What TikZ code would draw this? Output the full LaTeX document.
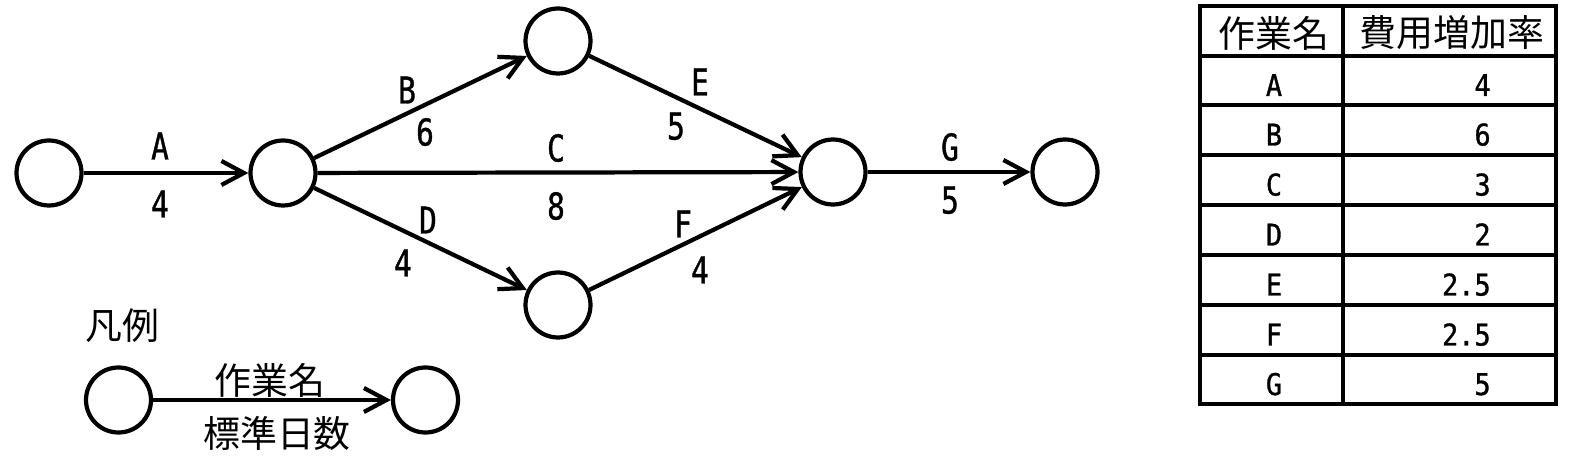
\documentclass[tikz,border=0pt]{standalone}
\usepackage{fontspec}
\usetikzlibrary{arrows.meta}
\newfontfamily\jp{Noto Sans CJK JP}
\newfontfamily\lat[FakeStretch=0.8, FakeBold=1]{DejaVu Sans Mono}
\newfontfamily\tlat[FakeStretch=0.9, FakeBold=1]{DejaVu Sans Mono}
\tikzset{
  ev/.style={circle, draw, line width=2.4pt, minimum size=1.3cm, inner sep=0pt},
  arr/.style={line width=2.4pt, -{Straight Barb[length=0.45cm, width=0.48cm]}},
  lbl/.style={font=\lat\fontsize{21pt}{21pt}\selectfont, inner sep=0pt, anchor=base},
  jtxt/.style={font=\jp\fontsize{21pt}{21pt}\selectfont, inner sep=0pt},
  tl/.style={font=\tlat\fontsize{17pt}{17pt}\selectfont, inner sep=0pt, anchor=base},
  tv/.style={font=\tlat\fontsize{17pt}{17pt}\selectfont, inner sep=0pt, anchor=base east},
  rule/.style={line width=2.4pt}
}
\begin{document}
\begin{tikzpicture}[x=0.02cm, y=-0.02cm]
\useasboundingbox (0,0) rectangle (1573,465);
% events
\node[ev] (n1) at (49,173) {};
\node[ev] (n2) at (283,173) {};
\node[ev] (n3) at (558,41) {};
\node[ev] (n4) at (558,305) {};
\node[ev] (n5) at (833,172) {};
\node[ev] (n6) at (1065,172) {};
% activities
\draw[arr] (n1) -- (n2);
\draw[arr] (n2) -- (n3);
\draw[arr] (n2) -- (n5);
\draw[arr] (n2) -- (n4);
\draw[arr] (n3) -- (n5);
\draw[arr] (n4) -- (n5);
\draw[arr] (n5) -- (n6);
% labels
\node[lbl] (la) at (160,159.5) {A};
\node[lbl] (da) at (160,217.5) {4};
\node[lbl] (lb) at (407,103.5) {B};
\node[lbl] (db) at (425,145.5) {6};
\node[lbl] (lc) at (556,161.5) {C};
\node[lbl] (dc) at (556,219.5) {8};
\node[lbl] (ld) at (428,233.5) {D};
\node[lbl] (dd) at (403,276.5) {4};
\node[lbl] (le) at (700,95.5) {E};
\node[lbl] (de) at (676,139.5) {5};
\node[lbl] (lf) at (683,237.5) {F};
\node[lbl] (df) at (700,283.5) {4};
\node[lbl] (lg) at (950,160.5) {G};
\node[lbl] (dg) at (950,213.5) {5};
% legend
\node[jtxt] (hanrei) at (122,326) {凡例};
\node[ev] (l1) at (118.5,400) {};
\node[ev] (l2) at (425.5,400) {};
\draw[arr] (l1) -- (l2);
\node[jtxt] (lname) at (270,380) {作業名};
\node[jtxt] (ldays) at (277,433) {標準日数};
% table
\draw[line width=2.7pt] (1200,6) rectangle (1556,404);
\draw[rule] (1343,6) -- (1343,404);
\foreach \yy in {56,105,155,205,255,305,355} {
  \draw[rule] (1200,\yy) -- (1556,\yy);
}
\node[jtxt] (h1) at (1274,33) {作業名};
\node[jtxt] (h2) at (1452,33) {費用増加率};
\node[tl] (ta) at (1274,96) {A};
\node[tl] (tb) at (1274,145.5) {B};
\node[tl] (tc) at (1274,195.5) {C};
\node[tl] (td) at (1274,245.5) {D};
\node[tl] (te) at (1274,295.5) {E};
\node[tl] (tf) at (1274,345.5) {F};
\node[tl] (tg) at (1274,395) {G};
\node[tv] (va) at (1491,96) {4};
\node[tv] (vb) at (1491,145.5) {6};
\node[tv] (vc) at (1491,195.5) {3};
\node[tv] (vd) at (1491,245.5) {2};
\node[tv] (ve) at (1491,295.5) {2.5};
\node[tv] (vf) at (1491,345.5) {2.5};
\node[tv] (vg) at (1491,395) {5};
\end{tikzpicture}
\end{document}
